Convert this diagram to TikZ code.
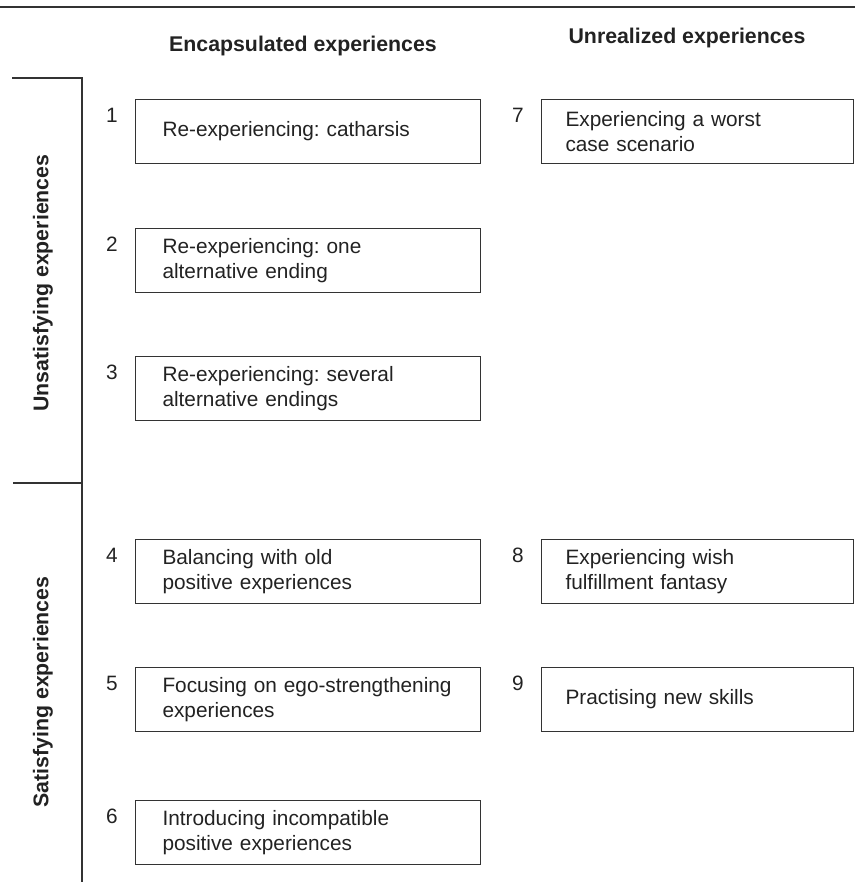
\documentclass[tikz,border=0pt]{standalone}
\usepackage{fontspec}
\setmainfont{Liberation Sans}
\usetikzlibrary{calc}
\definecolor{ink}{HTML}{222222}
\definecolor{rulegray}{HTML}{333333}
\frenchspacing

\begin{document}
\begin{tikzpicture}[x=1pt, y=1pt, every node/.style={font=\fontsize{20.8}{25}\selectfont, text=ink}]

		\useasboundingbox (0,0) rectangle (855,882);
		\tikzset{
			item/.style={draw=rulegray, line width=1pt, rectangle, anchor=north west, minimum height=64pt, inner ysep=0pt, align=left},
			itemA/.style={item, inner xsep=27pt, text width=291pt, minimum width=345pt},
			itemB/.style={item, inner xsep=24pt, text width=264pt, minimum width=312pt},
			num/.style={anchor=base east, inner sep=0pt},
			head/.style={font=\fontsize{21.3}{25}\selectfont\bfseries, anchor=base}
		}

		% top rule
		\coordinate (TL) at (0,875);
		\coordinate (TR) at (855,875);
		\draw[rulegray, line width=2.2pt] (TL) -- (TR);

		% column headings
		\node[head] (encap) at (303,830) {Encapsulated experiences};
		\node[head] (unreal) at (687,838) {Unrealized experiences};

		% row bracket with labels
		\coordinate (U) at (12,804);
		\coordinate (UR) at (82,804);
		\coordinate (S) at (13,399);
		\coordinate (SR) at (82,399);
		\coordinate (E) at (82,0);
		\draw[rulegray, line width=1.5pt] (U) -- (UR) -- (E) (S) -- (SR);
		\node[head, rotate=90, anchor=center] (unsat) at (43,599) {Unsatisfying experiences};
		\node[head, rotate=90, anchor=center] (sat) at (43,190) {Satisfying experiences};

		% encapsulated column
		\foreach \i/\y/\txt in {1/783/Re-experiencing: catharsis, 2/654/Re-experiencing: one\\alternative ending, 3/526/Re-experiencing: several\\alternative endings, 4/343/Balancing with old\\positive experiences, 5/215/Focusing on ego-strengthening\\experiences, 6/82/Introducing incompatible\\positive experiences}{\node[itemA] (b\i) at (135,\y) {\txt}; \node[num] (n\i) at ($(b\i.north west)+(-17,-24)$) {\i}; }

		% unrealized column
		\foreach \i/\y/\txt in {7/783/Experiencing a worst\\case scenario, 8/343/Experiencing wish\\fulfillment fantasy, 9/215/Practising new skills}{\node[itemB] (b\i) at (541,\y) {\txt}; \node[num] (n\i) at ($(b\i.north west)+(-17,-24)$) {\i}; }
	\end{tikzpicture}
\end{document}
